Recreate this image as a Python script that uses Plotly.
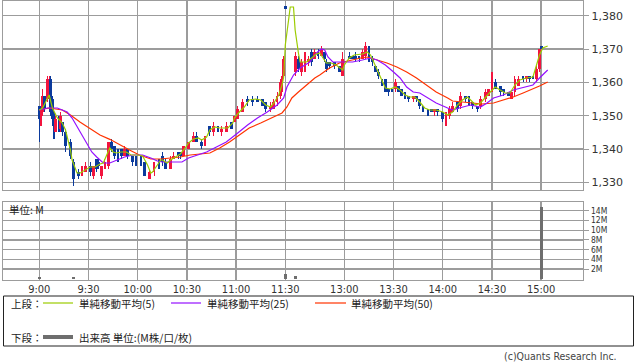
import plotly.graph_objects as go

# ---------------- data ----------------
# intraday bars: (time, open, high, low, close)
bars = [
    ("9:00", 1353, 1353, 1342, 1349), ("9:01", 1348, 1353, 1347, 1352), ("9:02", 1351, 1358, 1350, 1356),
    ("9:03", 1356, 1356, 1351, 1352), ("9:05", 1355, 1362, 1354, 1361), ("9:06", 1358, 1362, 1357, 1361),
    ("9:07", 1361, 1362, 1350, 1351), ("9:08", 1355, 1356, 1347, 1349), ("9:09", 1350, 1351, 1343, 1345),
    ("9:10", 1345, 1350, 1345, 1349), ("9:12", 1350, 1350, 1345, 1346), ("9:13", 1346, 1351, 1345, 1350),
    ("9:14", 1348, 1348, 1344, 1345), ("9:16", 1345, 1346, 1339, 1341), ("9:19", 1342, 1343, 1337, 1338),
    ("9:21", 1336, 1337, 1329, 1331), ("9:24", 1333, 1334, 1331, 1332), ("9:26", 1332, 1335, 1332, 1334),
    ("9:28", 1333, 1336, 1333, 1335), ("9:31", 1335, 1336, 1332, 1333), ("9:33", 1332, 1335, 1331, 1335),
    ("9:35", 1337, 1337, 1333, 1334), ("9:36", 1336, 1337, 1334, 1335), ("9:38", 1332, 1335, 1331, 1335),
    ("9:40", 1334, 1337, 1334, 1336), ("9:42", 1335, 1342, 1334, 1342), ("9:44", 1342, 1343, 1339, 1340),
    ("9:46", 1341, 1341, 1337, 1338), ("9:48", 1339, 1340, 1336, 1337), ("9:50", 1340, 1340, 1337, 1338),
    ("9:52", 1338, 1341, 1338, 1340), ("9:54", 1340, 1340, 1337, 1338), ("9:57", 1338, 1338, 1335, 1336),
    ("9:59", 1337, 1338, 1335, 1336), ("10:02", 1337, 1338, 1335, 1336), ("10:04", 1336, 1336, 1332, 1332),
    ("10:07", 1331, 1334, 1331, 1333), ("10:10", 1333, 1336, 1332, 1336), ("10:13", 1337, 1337, 1334, 1335),
    ("10:15", 1338, 1339, 1335, 1336), ("10:17", 1336, 1337, 1334, 1334), ("10:20", 1334, 1338, 1334, 1337),
    ("10:22", 1337, 1339, 1337, 1338), ("10:25", 1339, 1339, 1337, 1338), ("10:26", 1339, 1339, 1337, 1338),
    ("10:28", 1338, 1341, 1338, 1341), ("10:31", 1340, 1342, 1340, 1342), ("10:34", 1342, 1345, 1342, 1344),
    ("10:36", 1344, 1345, 1342, 1342), ("10:39", 1342, 1343, 1340, 1341), ("10:41", 1341, 1344, 1341, 1343),
    ("10:44", 1347, 1347, 1344, 1345), ("10:46", 1345, 1348, 1344, 1347), ("10:49", 1347, 1347, 1345, 1345),
    ("10:51", 1345, 1347, 1344, 1346), ("10:54", 1345, 1348, 1345, 1347), ("10:57", 1348, 1348, 1346, 1346),
    ("10:59", 1348, 1350, 1348, 1350), ("11:01", 1349, 1353, 1349, 1352), ("11:04", 1351, 1355, 1351, 1354),
    ("11:07", 1355, 1356, 1353, 1354), ("11:10", 1355, 1356, 1353, 1354), ("11:13", 1355, 1356, 1354, 1354),
    ("11:16", 1355, 1355, 1353, 1353), ("11:18", 1354, 1354, 1351, 1352), ("11:21", 1352, 1354, 1351, 1353),
    ("11:23", 1352, 1355, 1352, 1354), ("11:25", 1354, 1357, 1353, 1356), ("11:27", 1356, 1361, 1355, 1360),
    ("11:28", 1358, 1362, 1357, 1361), ("11:29", 1362, 1368, 1361, 1367), ("11:30", 1383, 1383, 1382, 1382),
    ("12:30", 1363, 1369, 1362, 1368), ("12:32", 1367, 1368, 1363, 1364), ("12:34", 1363, 1367, 1362, 1366),
    ("12:36", 1364, 1369, 1363, 1368), ("12:38", 1366, 1368, 1365, 1367), ("12:40", 1369, 1370, 1365, 1366),
    ("12:42", 1367, 1370, 1367, 1369), ("12:44", 1369, 1370, 1367, 1368), ("12:46", 1368, 1371, 1368, 1370),
    ("12:48", 1369, 1369, 1366, 1367), ("12:49", 1366, 1367, 1363, 1364), ("12:51", 1366, 1366, 1364, 1365),
    ("12:54", 1366, 1366, 1364, 1365), ("12:57", 1365, 1365, 1363, 1363), ("12:59", 1362, 1369, 1362, 1367),
    ("13:03", 1368, 1369, 1367, 1367), ("13:05", 1368, 1368, 1367, 1367), ("13:07", 1368, 1369, 1366, 1367),
    ("13:09", 1368, 1368, 1366, 1367), ("13:11", 1367, 1370, 1367, 1369), ("13:13", 1368, 1372, 1367, 1371),
    ("13:15", 1371, 1371, 1366, 1367), ("13:17", 1367, 1368, 1365, 1366), ("13:19", 1365, 1365, 1363, 1363),
    ("13:21", 1363, 1364, 1361, 1362), ("13:23", 1361, 1361, 1359, 1360), ("13:25", 1361, 1361, 1357, 1357),
    ("13:27", 1358, 1358, 1356, 1357), ("13:29", 1358, 1358, 1357, 1357), ("13:31", 1358, 1361, 1357, 1360),
    ("13:33", 1359, 1359, 1357, 1357), ("13:35", 1358, 1358, 1356, 1356), ("13:37", 1357, 1357, 1355, 1355),
    ("13:39", 1356, 1356, 1354, 1355), ("13:42", 1355, 1356, 1354, 1356), ("13:44", 1356, 1356, 1354, 1355),
    ("13:46", 1355, 1355, 1352, 1353), ("13:48", 1353, 1353, 1351, 1351), ("13:51", 1352, 1352, 1350, 1351),
    ("13:53", 1352, 1352, 1351, 1351), ("13:55", 1351, 1352, 1350, 1352), ("13:57", 1352, 1352, 1350, 1351),
    ("14:00", 1351, 1351, 1348, 1349), ("14:02", 1349, 1351, 1347, 1350), ("14:04", 1350, 1353, 1349, 1352),
    ("14:06", 1351, 1354, 1351, 1353), ("14:09", 1354, 1354, 1351, 1352), ("14:11", 1353, 1357, 1352, 1356),
    ("14:14", 1356, 1356, 1354, 1355), ("14:16", 1356, 1356, 1353, 1354), ("14:18", 1354, 1354, 1352, 1353),
    ("14:21", 1353, 1353, 1351, 1352), ("14:23", 1353, 1356, 1352, 1355), ("14:26", 1355, 1358, 1354, 1357),
    ("14:28", 1356, 1358, 1356, 1358), ("14:30", 1357, 1363, 1357, 1359), ("14:32", 1360, 1361, 1358, 1358),
    ("14:35", 1359, 1359, 1356, 1357), ("14:37", 1358, 1358, 1356, 1357), ("14:40", 1357, 1357, 1356, 1356),
    ("14:42", 1355, 1357, 1355, 1357), ("14:44", 1357, 1362, 1356, 1361), ("14:46", 1359, 1362, 1359, 1361),
    ("14:49", 1362, 1362, 1360, 1361), ("14:51", 1361, 1362, 1360, 1362), ("14:53", 1362, 1362, 1360, 1361),
    ("14:55", 1362, 1362, 1361, 1361), ("14:57", 1361, 1365, 1360, 1364), ("14:59", 1364, 1370, 1363, 1370),
    ("15:00", 1371, 1371, 1370, 1370),
]

# moving averages as drawn on the chart: (time, value)
ma5 = [
    ("9:00", 1351.7), ("9:02", 1352.3), ("9:06", 1356.2), ("9:08", 1352.3), ("9:11", 1349.3), ("9:14", 1347.8),
    ("9:16", 1345.7), ("9:19", 1339.7), ("9:20", 1336.7), ("9:23", 1332.8), ("9:25", 1332.8), ("9:28", 1333.7),
    ("9:31", 1334.6), ("9:34", 1334.6), ("9:37", 1335.5), ("9:39", 1335.8), ("9:41", 1338.2), ("9:43", 1340.3),
    ("9:45", 1339.1), ("9:47", 1338.8), ("9:50", 1339.1), ("9:53", 1339.1), ("9:56", 1338.2), ("10:00", 1338.2),
    ("10:03", 1337.9), ("10:06", 1335.2), ("10:08", 1332.8), ("10:09", 1333.1), ("10:12", 1335.2), ("10:14", 1336.7),
    ("10:15", 1336.7), ("10:18", 1335.8), ("10:20", 1336.7), ("10:23", 1337.6), ("10:26", 1338.5), ("10:29", 1340.3),
    ("10:31", 1341.8), ("10:34", 1343.0), ("10:37", 1343.3), ("10:39", 1342.7), ("10:42", 1343.6), ("10:44", 1345.7),
    ("10:47", 1346.6), ("10:50", 1346.3), ("10:55", 1346.3), ("10:58", 1347.8), ("10:59", 1349.3), ("11:02", 1351.1),
    ("11:05", 1352.6), ("11:08", 1354.7), ("11:12", 1355.0), ("11:15", 1354.7), ("11:18", 1353.2), ("11:21", 1352.6),
    ("11:23", 1353.8), ("11:26", 1356.2), ("11:28", 1359.2), ("11:29", 1361.6), ("11:30", 1371.2), ("11:32", 1378.7),
    ("11:33", 1382.6), ("11:35", 1382.6), ("12:30", 1375.7), ("12:32", 1368.8), ("12:33", 1366.1), ("12:35", 1366.1),
    ("12:37", 1366.1), ("12:40", 1367.3), ("12:43", 1368.5), ("12:45", 1368.8), ("12:47", 1367.3), ("12:49", 1365.8),
    ("12:52", 1365.8), ("12:55", 1365.2), ("12:59", 1363.7), ("13:00", 1365.2), ("13:03", 1367.3), ("13:06", 1368.2),
    ("13:11", 1368.5), ("13:14", 1369.1), ("13:16", 1368.2), ("13:18", 1366.1), ("13:20", 1363.7), ("13:23", 1360.7),
    ("13:25", 1358.3), ("13:28", 1358.0), ("13:31", 1358.6), ("13:34", 1357.7), ("13:37", 1356.2), ("13:40", 1355.6),
    ("13:43", 1355.6), ("13:46", 1354.1), ("13:49", 1352.3), ("13:52", 1351.7), ("13:56", 1351.7), ("14:00", 1351.1),
    ("14:03", 1350.2), ("14:06", 1351.1), ("14:09", 1353.2), ("14:12", 1354.7), ("14:15", 1355.6), ("14:17", 1354.7),
    ("14:20", 1353.2), ("14:23", 1353.8), ("14:26", 1355.6), ("14:29", 1357.1), ("14:32", 1358.6), ("14:35", 1357.7),
    ("14:38", 1356.8), ("14:41", 1356.8), ("14:44", 1359.2), ("14:47", 1360.7), ("14:51", 1361.3), ("14:55", 1361.6),
    ("14:57", 1364.6), ("14:59", 1368.2), ("15:01", 1370.3), ("15:04", 1370.9),
]
ma25 = [
    ("9:00", 1351.7), ("9:05", 1352.3), ("9:11", 1352.3), ("9:17", 1351.1), ("9:20", 1349.3), ("9:25", 1345.1),
    ("9:29", 1341.8), ("9:32", 1339.1), ("9:35", 1337.6), ("9:39", 1335.8), ("9:43", 1335.8), ("9:47", 1336.7),
    ("9:52", 1337.6), ("9:57", 1338.2), ("10:03", 1338.2), ("10:08", 1337.3), ("10:12", 1336.4), ("10:15", 1336.1),
    ("10:21", 1336.1), ("10:27", 1336.1), ("10:31", 1337.3), ("10:36", 1338.2), ("10:42", 1339.1), ("10:48", 1340.6),
    ("10:54", 1342.1), ("11:01", 1344.8), ("11:07", 1347.2), ("11:13", 1349.3), ("11:19", 1351.1), ("11:25", 1353.2),
    ("11:29", 1355.3), ("11:31", 1358.6), ("11:35", 1362.2), ("12:33", 1364.3), ("12:39", 1366.1), ("12:43", 1368.8),
    ("12:46", 1370.0), ("12:48", 1369.7), ("12:50", 1367.6), ("12:53", 1366.1), ("12:59", 1366.1), ("13:05", 1366.1),
    ("13:11", 1366.7), ("13:16", 1367.3), ("13:20", 1366.7), ("13:25", 1365.2), ("13:30", 1363.1), ("13:34", 1361.3),
    ("13:38", 1358.6), ("13:42", 1357.1), ("13:46", 1356.8), ("13:51", 1355.3), ("13:56", 1353.8), ("14:03", 1352.3),
    ("14:06", 1351.7), ("14:10", 1352.3), ("14:17", 1353.2), ("14:23", 1352.6), ("14:27", 1353.8), ("14:31", 1355.3),
    ("14:37", 1356.2), ("14:43", 1357.7), ("14:51", 1358.6), ("14:55", 1359.2), ("14:59", 1361.3), ("15:04", 1363.7),
]
ma50 = [
    ("9:00", 1351.7), ("9:06", 1352.3), ("9:14", 1351.7), ("9:19", 1350.2), ("9:25", 1348.0), ("9:31", 1346.0),
    ("9:37", 1344.2), ("9:43", 1342.9), ("9:49", 1341.2), ("9:55", 1339.7), ("10:01", 1338.2), ("10:08", 1337.0),
    ("10:14", 1337.0), ("10:20", 1337.3), ("10:26", 1337.6), ("10:32", 1338.2), ("10:38", 1338.5), ("10:44", 1338.8),
    ("10:50", 1340.3), ("10:56", 1342.1), ("11:02", 1344.2), ("11:08", 1346.3), ("11:15", 1347.8), ("11:21", 1349.3),
    ("11:28", 1350.8), ("11:31", 1352.6), ("11:34", 1355.3), ("12:32", 1357.1), ("12:37", 1359.2), ("12:42", 1361.3),
    ("12:45", 1362.2), ("12:51", 1364.3), ("12:57", 1365.8), ("13:04", 1366.7), ("13:10", 1367.3), ("13:14", 1367.6),
    ("13:20", 1366.7), ("13:26", 1365.8), ("13:32", 1364.6), ("13:38", 1363.1), ("13:44", 1361.3), ("13:50", 1359.2),
    ("13:56", 1357.1), ("14:03", 1355.3), ("14:06", 1354.4), ("14:12", 1354.1), ("14:18", 1353.8), ("14:24", 1353.5),
    ("14:31", 1353.8), ("14:37", 1354.7), ("14:43", 1355.6), ("14:49", 1356.8), ("14:55", 1358.0), ("14:59", 1358.9),
    ("15:04", 1360.1),
]

# volume (M shares); other minutes are too small to see
vol_time = ["9:00", "9:21", "11:30", "12:30", "15:00"]
vol_value = [0.4, 0.3, 0.9, 0.5, 14.8]

tick_labels = ["9:00", "9:30", "10:00", "10:30", "11:00", "11:30", "13:00", "13:30", "14:00", "14:30", "15:00"]
price_ticks = [1330, 1340, 1350, 1360, 1370, 1380]
vol_ticks = [2, 4, 6, 8, 10, 12, 14]

# ---------------- helpers ----------------
W, H = 638, 362


def slot(t):
    """session minute axis: morning = minutes after 9:00, afternoon starts at slot 156 (12:30)."""
    h, m = map(int, t.split(":"))
    mins = h * 60 + m
    if mins < 12 * 60:
        return mins - 9 * 60
    return 156 + mins - (12 * 60 + 30)


def px(x):
    return x / W


def py(y):
    return 1 - y / H


UP, DOWN = "#f2143e", "#0b3a9c"
GRID = "#9c9c9c"

bx = [slot(b[0]) for b in bars]
o = [b[1] for b in bars]
hi = [b[2] for b in bars]
lo = [b[3] for b in bars]
c = [b[4] for b in bars]
cols = [UP if cc >= oo else DOWN for oo, cc in zip(o, c)]

fig = go.Figure()
# wicks
fig.add_trace(go.Bar(x=bx, y=[h_ - l_ for h_, l_ in zip(hi, lo)], base=lo, width=0.7,
                     marker=dict(color=cols, line=dict(width=0)), xaxis="x", yaxis="y", hoverinfo="skip"))
# bodies
fig.add_trace(go.Bar(x=bx, y=[max(abs(cc - oo), 0.45) for oo, cc in zip(o, c)],
                     base=[min(oo, cc) for oo, cc in zip(o, c)], width=1.7,
                     marker=dict(color=cols, line=dict(width=0)), xaxis="x", yaxis="y"))

for data, color in ((ma50, "#ff3300"), (ma25, "#9410ff"), (ma5, "#9ccc00")):
    fig.add_trace(go.Scatter(x=[slot(t) for t, _ in data], y=[v for _, v in data], mode="lines",
                             line=dict(color=color, width=1.2), xaxis="x", yaxis="y"))

fig.add_trace(go.Bar(x=[slot(t) for t in vol_time], y=vol_value, width=1.9,
                     marker=dict(color="#6e6e6e", line=dict(width=0)), xaxis="x2", yaxis="y2"))

xr = [(3 - 39.3) / 1.64, (583 - 39.3) / 1.64]
tickpos = [slot(t) for t in tick_labels]
dom_x = [px(3), px(583)]
tickfont_num = dict(family="DejaVu Sans", size=11, color="#333333")
tickfont_narrow = dict(family="DejaVu Sans Condensed, DejaVu Sans", size=8.5, color="#333333")

axis_common = dict(showgrid=True, gridcolor=GRID, gridwidth=1.3, zeroline=False, automargin=False,
                   showline=True, mirror=True, linecolor=GRID, linewidth=1.3, fixedrange=True)

fig.update_layout(
    width=W, height=H, margin=dict(l=0, r=0, t=0, b=0),
    paper_bgcolor="white", plot_bgcolor="white", showlegend=False, barmode="overlay", bargap=0,
    xaxis=dict(domain=dom_x, range=xr, tickvals=tickpos, showticklabels=False, ticks="", anchor="y",
               **axis_common),
    yaxis=dict(domain=[py(190), py(1)], range=[1384.7 - 0.3 * 190, 1384.7 - 0.3 * 1], side="right",
               tickvals=price_ticks, tickformat=",", ticks="outside", ticklen=5, tickcolor=GRID,
               tickfont=tickfont_num, anchor="x", **axis_common),
    xaxis2=dict(domain=dom_x, range=xr, tickvals=tickpos, ticktext=tick_labels, ticks="", anchor="y2",
                tickfont=dict(family="DejaVu Sans Condensed, DejaVu Sans", size=11, color="#333333"),
                ticklabelstandoff=-2, **axis_common),
    yaxis2=dict(domain=[py(280), py(202)], range=[-(280 - 278.7) / 4.85, (278.7 - 202) / 4.85], side="right",
                tickvals=vol_ticks, ticktext=[f"{v}M" for v in vol_ticks], ticks="outside", ticklen=5,
                tickcolor=GRID, tickfont=tickfont_narrow, anchor="x2", **axis_common),
)

jp = "Noto Sans CJK JP"
txt = dict(family=jp, size=10.5, color="#222222")
ann = [
    dict(x=px(7), y=py(209), text="単位: M", xanchor="left", yanchor="middle", font=txt),
    dict(x=px(9), y=py(303), text="上段：", xanchor="left", yanchor="middle", font=txt),
    dict(x=px(77), y=py(303), text="単純移動平均(5)", xanchor="left", yanchor="middle", font=txt),
    dict(x=px(205), y=py(303), text="単純移動平均(25)", xanchor="left", yanchor="middle", font=txt),
    dict(x=px(349), y=py(303), text="単純移動平均(50)", xanchor="left", yanchor="middle", font=txt),
    dict(x=px(9), y=py(337), text="下段：", xanchor="left", yanchor="middle", font=txt),
    dict(x=px(77), y=py(337), text="出来高 単位:(M株/口/枚)", xanchor="left", yanchor="middle", font=txt),
    dict(x=px(619), y=py(356), text="(c)Quants Research Inc.", xanchor="right", yanchor="middle",
         font=dict(family="DejaVu Sans Condensed, DejaVu Sans", size=10.5, color="#444444")),
]
fig.update_layout(annotations=[dict(xref="paper", yref="paper", showarrow=False, **a) for a in ann])

shapes = [
    dict(type="rect", x0=px(3.5), x1=px(633.5), y0=py(346), y1=py(296), line=dict(color="#222222", width=1)),
    dict(type="line", x0=px(43), x1=px(73), y0=py(303), y1=py(303), line=dict(color="#9ccc00", width=1.2)),
    dict(type="line", x0=px(171), x1=px(201), y0=py(303), y1=py(303), line=dict(color="#9410ff", width=1.2)),
    dict(type="line", x0=px(315), x1=px(346), y0=py(303), y1=py(303), line=dict(color="#ff3300", width=1.2)),
    dict(type="line", x0=px(43), x1=px(73), y0=py(337), y1=py(337), line=dict(color="#6e6e6e", width=4)),
]
fig.update_layout(shapes=[dict(xref="paper", yref="paper", **s) for s in shapes])

fig.write_html("out.html", config={"displayModeBar": False, "staticPlot": True},
               post_script="document.body.style.margin='0px';document.body.style.overflow='hidden';")
